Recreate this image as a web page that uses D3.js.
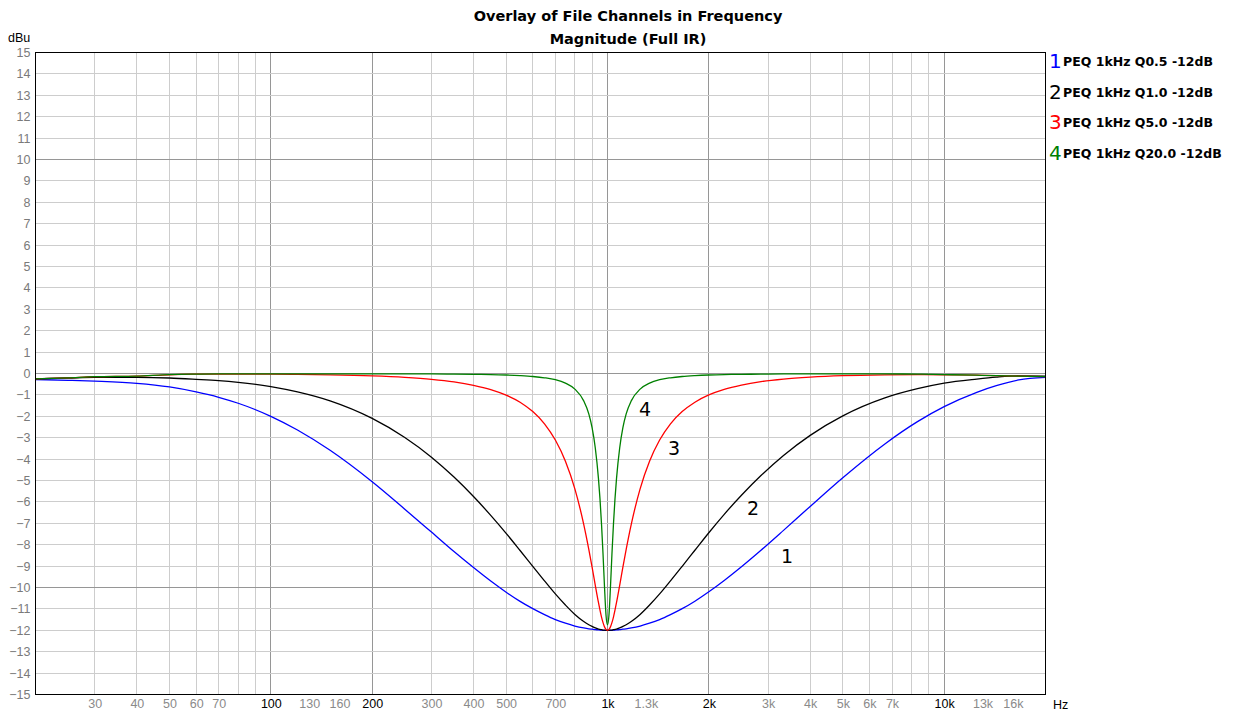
<!DOCTYPE html>
<html>
<head>
<meta charset="utf-8">
<script src="https://cdn.jsdelivr.net/npm/d3@7"></script>
<style>
  html, body { margin: 0; padding: 0; background: #ffffff; }
  svg { display: block; }
</style>
</head>
<body>
<svg id="chart" width="1234" height="713"></svg>
<script>
// ---------- data ----------
const titleLines = ["Overlay of File Channels in Frequency", "Magnitude (Full IR)"];
const yUnit = "dBu";
const xUnit = "Hz";

const freqs = [20, 25, 30, 40, 50, 60, 70, 80, 100, 120, 150, 200, 250, 300, 350, 400, 450, 500, 550, 600,
  650, 700, 750, 800, 850, 880, 900, 920, 940, 950, 960, 970, 980, 990, 1000,
  1010.1, 1020.4, 1030.9, 1041.7, 1052.6, 1063.8, 1087, 1111.1, 1136.4, 1176.5, 1250, 1333.3, 1428.6, 1538.5,
  1666.7, 1818.2, 2000, 2222, 2500, 2857, 3333, 4000, 5000, 6667, 8333, 10000, 12500, 14286, 16667, 20000];

const peqQ05 = [-0.28, -0.32, -0.36, -0.46, -0.63, -0.86, -1.11, -1.39, -2.00, -2.64, -3.59, -5.06, -6.34, -7.41, -8.32, -9.07, -9.70, -10.22, -10.65, -10.99,
  -11.27, -11.50, -11.67, -11.80, -11.89, -11.93, -11.95, -11.97, -11.98, -11.99, -11.99, -12.0, -12.0, -12.0, -12.0,
  -12.0, -12.0, -12.0, -11.99, -11.99, -11.98, -11.97, -11.95, -11.93, -11.89, -11.80, -11.67, -11.50, -11.27,
  -10.99, -10.64, -10.20, -9.67, -9.03, -8.26, -7.33, -6.21, -4.87, -3.29, -2.25, -1.55, -0.88, -0.57, -0.30, -0.18];

const peqQ1 = [-0.25, -0.21, -0.18, -0.18, -0.21, -0.27, -0.33, -0.41, -0.61, -0.86, -1.28, -2.10, -2.99, -3.91, -4.84, -5.75, -6.63, -7.47, -8.27, -9.01,
  -9.69, -10.30, -10.82, -11.26, -11.59, -11.74, -11.82, -11.89, -11.94, -11.96, -11.97, -11.99, -11.99, -12.0, -12.0,
  -12.0, -11.99, -11.99, -11.97, -11.96, -11.94, -11.89, -11.82, -11.74, -11.59, -11.26, -10.82, -10.30, -9.69,
  -9.01, -8.26, -7.44, -6.58, -5.69, -4.77, -3.83, -2.89, -1.98, -1.14, -0.71, -0.45, -0.26, -0.17, -0.11, -0.12];

const peqQ5 = [-0.25, -0.20, -0.15, -0.12, -0.06, -0.03, -0.03, -0.03, -0.03, -0.04, -0.06, -0.11, -0.18, -0.27, -0.39, -0.55, -0.75, -1.01, -1.34, -1.78,
  -2.35, -3.11, -4.10, -5.39, -7.05, -8.22, -9.05, -9.90, -10.70, -11.06, -11.38, -11.64, -11.84, -11.96, -12.0,
  -11.96, -11.84, -11.64, -11.38, -11.06, -10.70, -9.90, -9.05, -8.22, -7.05, -5.39, -4.10, -3.11, -2.35,
  -1.78, -1.34, -1.00, -0.74, -0.54, -0.38, -0.26, -0.17, -0.10, -0.06, -0.05, -0.06, -0.08, -0.10, -0.12, -0.15];

const peqQ20 = [-0.25, -0.20, -0.15, -0.12, -0.05, -0.03, -0.02, -0.02, -0.02, -0.02, -0.02, -0.02, -0.02, -0.02, -0.03, -0.04, -0.05, -0.07, -0.10, -0.14,
  -0.20, -0.29, -0.45, -0.73, -1.28, -1.89, -2.53, -3.48, -4.90, -5.86, -7.04, -8.45, -10.00, -11.30, -11.75,
  -11.30, -10.00, -8.45, -7.04, -5.86, -4.90, -3.48, -2.53, -1.89, -1.28, -0.73, -0.45, -0.29, -0.20,
  -0.14, -0.10, -0.07, -0.05, -0.04, -0.03, -0.02, -0.02, -0.02, -0.02, -0.03, -0.05, -0.08, -0.10, -0.12, -0.15];

const seriesNames = ["PEQ 1kHz Q0.5 -12dB", "PEQ 1kHz Q1.0 -12dB", "PEQ 1kHz Q5.0 -12dB", "PEQ 1kHz Q20.0 -12dB"];
const seriesIds = ["1", "2", "3", "4"];
const seriesValues = [peqQ05, peqQ1, peqQ5, peqQ20];

// curve number annotations (frequency, dB of the label baseline)
const labelFreqs = [3412, 2704, 1576, 1292];
const labelDb = [-8.86, -6.61, -3.81, -1.99];

const xTickValues = [30, 40, 50, 60, 70, 100, 130, 160, 200, 300, 400, 500, 700, 1000, 1300, 2000, 3000, 4000, 5000, 6000, 7000, 10000, 13000, 16000];
const xTickText = ["30", "40", "50", "60", "70", "100", "130", "160", "200", "300", "400", "500", "700", "1k", "1.3k", "2k", "3k", "4k", "5k", "6k", "7k", "10k", "13k", "16k"];
const xMajor = [100, 200, 1000, 2000, 10000];
const yTickValues = d3.range(-15, 16, 1);
const yMajor = [-10, 0, 10];

// ---------- styles ----------
const colors = ["#0000ff", "#000000", "#ff0000", "#008000"];
const FONT = "'DejaVu Sans', 'Liberation Sans', sans-serif";
const AXFONT = "'Liberation Sans', Arial, sans-serif";

const svg = d3.select("#chart");
const L = 35.5, R = 1045.5, T = 52.5, B = 694.5;

const x = d3.scaleLog().domain([20, 20000]).range([L, R]);
const y = d3.scaleLinear().domain([-15, 15]).range([B, T]);
const px = v => Math.round(v - 0.5) + 0.5;

svg.append("rect").attr("width", 1234).attr("height", 713).attr("fill", "#fff");

// ---------- grid ----------
const grid = svg.append("g").attr("shape-rendering", "crispEdges");
const vLines = [];
[10, 100, 1000, 10000].forEach(dec => {
  for (let m = 1; m <= 9; m++) {
    const f = m * dec;
    if (f > 20 && f < 20000) vLines.push(f);
  }
});
grid.selectAll("line.v").data(vLines).join("line")
  .attr("x1", d => px(x(d))).attr("x2", d => px(x(d)))
  .attr("y1", T).attr("y2", B)
  .attr("stroke", d => xMajor.includes(d) ? "#969696" : "#cdcdcd")
  .attr("stroke-width", 1);
grid.selectAll("line.h").data(d3.range(-14, 15, 1)).join("line")
  .attr("x1", L).attr("x2", R)
  .attr("y1", d => px(y(d))).attr("y2", d => px(y(d)))
  .attr("stroke", d => yMajor.includes(d) ? "#969696" : "#cdcdcd")
  .attr("stroke-width", 1);

// ---------- curves ----------
svg.append("clipPath").attr("id", "plotclip")
  .append("rect").attr("x", L).attr("y", T).attr("width", R - L).attr("height", B - T);

const line = d3.line()
  .x(d => x(d[0])).y(d => y(d[1]))
  .curve(d3.curveMonotoneX);

const curves = svg.append("g").attr("clip-path", "url(#plotclip)");
seriesValues.forEach((vals, i) => {
  const pts = freqs.map((f, k) => [f, vals[k]]);
  curves.append("path")
    .attr("d", line(pts))
    .attr("fill", "none")
    .attr("stroke", colors[i])
    .attr("stroke-width", 1.3)
    .attr("stroke-linejoin", "round");
});

// curve number labels
svg.append("g").selectAll("text").data(seriesIds).join("text")
  .attr("x", (d, i) => x(labelFreqs[i]))
  .attr("y", (d, i) => y(labelDb[i]))
  .attr("text-anchor", "middle")
  .attr("font-family", FONT)
  .attr("font-size", 19)
  .attr("fill", "#000")
  .text(d => d);

// ---------- frame ----------
svg.append("rect")
  .attr("x", L).attr("y", T).attr("width", R - L).attr("height", B - T)
  .attr("fill", "none").attr("stroke", "#000").attr("stroke-width", 1)
  .attr("shape-rendering", "crispEdges");

// ---------- axes ----------
const xAxis = d3.axisBottom(x).tickValues(xTickValues)
  .tickFormat((d, i) => xTickText[i]).tickSize(0).tickPadding(5);
const gx = svg.append("g").attr("transform", `translate(0,${B})`).call(xAxis);
gx.select(".domain").remove();
gx.selectAll("text")
  .attr("font-family", AXFONT).attr("font-size", 12.5)
  .attr("fill", d => xMajor.includes(d) ? "#000" : "#8a8a8a");

const yAxis = d3.axisLeft(y).tickValues(yTickValues).tickFormat(d3.format("d")).tickSize(0).tickPadding(5);
const gy = svg.append("g").attr("transform", `translate(${L},0)`).call(yAxis);
gy.select(".domain").remove();
gy.selectAll("text")
  .attr("font-family", AXFONT).attr("font-size", 12.5)
  .attr("fill", "#7a7a7a");

svg.append("text").attr("x", 8).attr("y", 42)
  .attr("font-family", AXFONT).attr("font-size", 12.5).attr("fill", "#000").text(yUnit);
svg.append("text").attr("x", 1053).attr("y", 709)
  .attr("font-family", AXFONT).attr("font-size", 12.5).attr("fill", "#000").text(xUnit);

// ---------- title ----------
svg.append("g").selectAll("text").data(titleLines).join("text")
  .attr("x", 628).attr("y", (d, i) => 21 + i * 23)
  .attr("text-anchor", "middle")
  .attr("font-family", FONT).attr("font-weight", "bold").attr("font-size", 14.5)
  .attr("fill", "#000")
  .text(d => d);

// ---------- legend ----------
const leg = svg.append("g");
seriesNames.forEach((name, i) => {
  const by = 68 + i * 30.7;
  leg.append("text").attr("x", 1049).attr("y", by)
    .attr("font-family", FONT).attr("font-size", 20).attr("fill", colors[i])
    .text(seriesIds[i]);
  leg.append("text").attr("x", 1063).attr("y", by - 2)
    .attr("font-family", FONT).attr("font-weight", "bold").attr("font-size", 12.5).attr("fill", "#000")
    .text(name);
});
</script>
</body>
</html>
